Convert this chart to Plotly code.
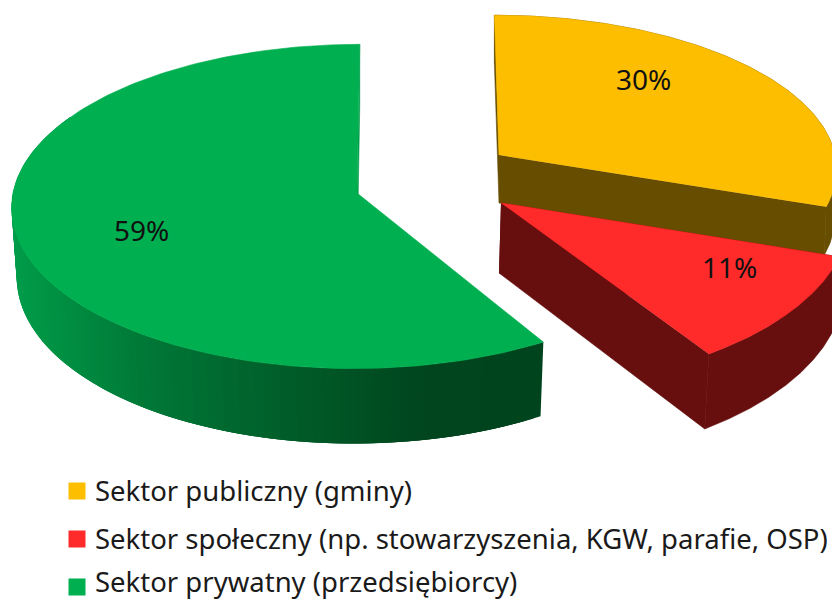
import numpy as np
import plotly.graph_objects as go

# --- data ---
categories = ["Sektor publiczny (gminy)",
              "Sektor społeczny (np. stowarzyszenia, KGW, parafie, OSP)",
              "Sektor prywatny (przedsiębiorcy)"]
shares = [30, 11, 59]
labels = ["30%", "11%", "59%"]

# --- styling ---
top_colors = ["#FDBE00", "#FF2A2A", "#00AF50"]
side_colors = ["#664D00", "#660F0E", None]
green_gradient_x = [10, 60, 150, 300, 440, 550]
green_gradient_rgb = [(0, 158, 76), (0, 146, 68), (0, 122, 56), (0, 94, 42), (0, 70, 31), (0, 68, 30)]
FONT = "Noto Sans"

# exploded-slice projection: apex, radii, perspective, extrusion, angular correction
proj = [
    dict(x0=499, y0=155, A=336, B=151, C=-5, k=0.08, d0=48, d1=0, d2=0, s=0.995, dx=0, off0=0, off1=1.5),
    dict(x0=501, y0=203, A=347, B=170, C=0, k=0.08, d0=70, d1=-6, d2=0, s=0.99, dx=-2, off0=0, off1=-1.6),
    dict(x0=357, y0=193, A=344, B=161, C=3, k=0.083, d0=69, d1=-6, d2=0, s=0.985, dx=0, off0=1.7, off1=0),
]
label_pos = [(643, 79), (729, 267), (141, 230)]
swatch_x = 77
swatch_y = [491, 539, 587]
legend_text_y = [490, 538, 581.5]
legend_text_x = 93


def project(p, deg):
    th = np.radians(np.asarray(deg, float))
    X, Y = np.sin(th), np.cos(th)
    den = 1 + p["k"] * Y
    x = p["x0"] + (p["A"] * X + p["C"] * Y) / den
    y = p["y0"] - p["B"] * Y / den
    return x, y


def extrude(p, x, y, Xn, Yn):
    d = p["d0"] + p["d1"] * Yn + p["d2"] * Xn
    return p["x0"] + p["dx"] + (x - p["x0"]) * p["s"], y + d


def grad_color(x):
    c = [np.interp(x, green_gradient_x, [r[i] for r in green_gradient_rgb]) for i in range(3)]
    return "rgb(%d,%d,%d)" % tuple(c)


fig = go.Figure()


def poly(xs, ys, color, name=None, lw=0.6):
    fig.add_trace(go.Scatter(x=list(xs), y=list(ys), mode="lines", fill="toself", fillcolor=color,
                             line=dict(color=color, width=lw), hoverinfo="skip",
                             showlegend=False, name=name))


edges = np.cumsum([0] + shares) * 3.6
for i in range(3):
    p = proj[i]
    a0, a1 = edges[i] + p["off0"], edges[i + 1] + p["off1"]
    deg = np.linspace(a0, a1, 161)
    ax, ay = project(p, deg)
    th = np.radians(deg)
    bx, by = extrude(p, ax, ay, np.sin(th), np.cos(th))
    apex_bx, apex_by = p["x0"] + p["dx"], p["y0"] + p["d0"]
    if i < 2:
        # outer wall and the two cut faces
        poly(np.r_[ax, bx[::-1]], np.r_[ay, by[::-1]], side_colors[i])
        poly([p["x0"], ax[0], bx[0], apex_bx], [p["y0"], ay[0], by[0], apex_by], side_colors[i])
        poly([p["x0"], ax[-1], bx[-1], apex_bx], [p["y0"], ay[-1], by[-1], apex_by], side_colors[i])
    else:
        # back cut face, just visible as a sliver
        poly([p["x0"], ax[-1], bx[-1], apex_bx], [p["y0"], ay[-1], by[-1], apex_by], "#009E48")
        # front wall: horizontal shading, bands overlap so no seams show
        idx = np.where(deg <= 300)[0]
        for j in idx[:-1][::-1]:
            e = idx[-1] if j + 3 > idx[-1] else j + 3
            poly(np.r_[ax[j:e + 1], bx[j:e + 1][::-1]], np.r_[ay[j:e + 1], by[j:e + 1][::-1]],
                 grad_color((ax[j] + ax[j + 1]) / 2), lw=0)
    poly(np.r_[p["x0"], ax], np.r_[p["y0"], ay], top_colors[i], name=categories[i])

# legend swatches
fig.add_trace(go.Scatter(x=[swatch_x] * 3, y=swatch_y, mode="markers", hoverinfo="skip", showlegend=False,
                         marker=dict(symbol="square", size=17, color=top_colors, line=dict(width=0))))

ann = []
for t, (x, y) in zip(labels, label_pos):
    ann.append(dict(x=x, y=y, text=t, showarrow=False, xanchor="center", yanchor="middle",
                    font=dict(family=FONT, size=28, color="#111111")))
for t, y in zip(categories, legend_text_y):
    ann.append(dict(x=legend_text_x, y=y, text=t, showarrow=False, xanchor="left", yanchor="middle",
                    font=dict(family=FONT, size=27.5, color="#1a1a1a")))

fig.update_layout(
    width=832, height=601, autosize=False,
    margin=dict(l=0, r=0, t=0, b=0),
    paper_bgcolor="white", plot_bgcolor="white",
    xaxis=dict(range=[0, 832], visible=False, fixedrange=True),
    yaxis=dict(range=[601, 0], visible=False, fixedrange=True),
    annotations=ann,
    showlegend=False,
)

fig.write_html("out.html", config=dict(displayModeBar=False),
               post_script="document.body.style.margin='0';document.body.style.overflow='hidden';")
